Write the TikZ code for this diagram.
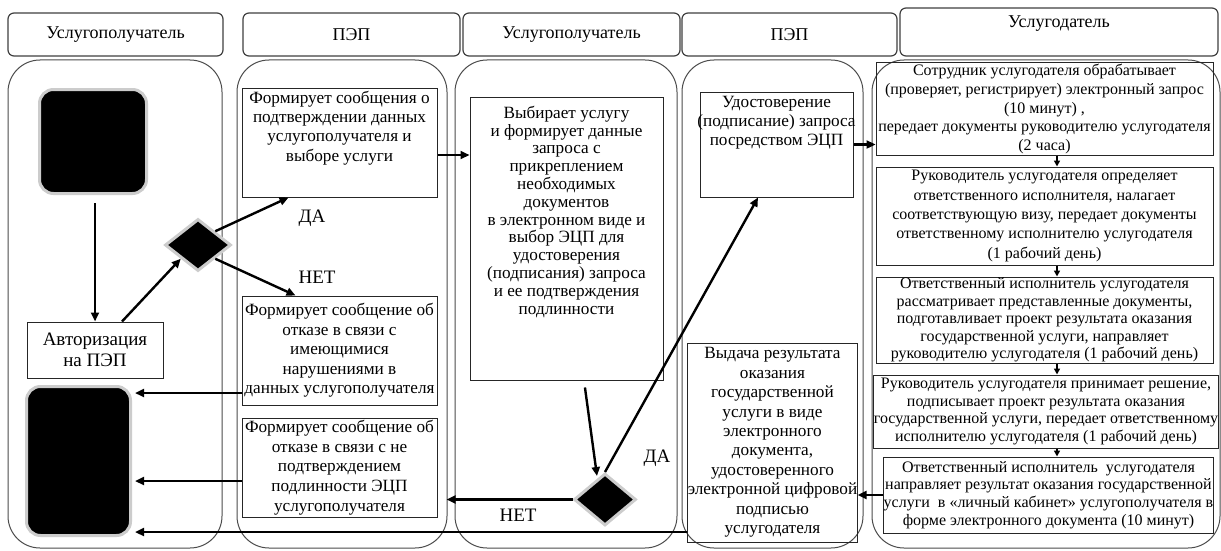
\documentclass[tikz,border=0pt]{standalone}
\usepackage{fontspec}
\setmainfont{Liberation Serif}
\usetikzlibrary{shapes.geometric,arrows.meta}
% text box with the text set at its top
\newcommand{\toptext}[4]{\parbox[t][#2pt][t]{#1pt}{\centering\vspace*{#3pt}#4}}
\begin{document}
\begin{tikzpicture}[x=1pt,y=-1pt,
    every node/.style={font=\fontsize{17.2}{19.3}\selectfont},
    lane/.style={draw=black!70,line width=1pt,rounded corners=32pt},
    head/.style={draw=black!75,line width=1.2pt,rounded corners=6pt,minimum height=43pt,inner sep=0pt,font=\fontsize{18}{20}\selectfont},
    act/.style={draw=black!85,line width=1pt,align=center,inner sep=0pt},
    small/.style={font=\fontsize{16}{#1}\selectfont},
    term/.style={fill=black,draw=black!20,line width=3pt,rounded corners=14pt},
    cond/.style={diamond,fill=black,draw=black!20,line width=3pt,inner sep=0pt},
    arr/.style={line width=2.4pt,-{Triangle[length=9pt,width=8pt]}},
    sarr/.style={line width=1.5pt,-{Triangle[length=6pt,width=6pt]}}]
  \fill[white] (0,0) rectangle (1221,551);
  \useasboundingbox (0,0) rectangle (1221,551);

  % lanes
  \draw[lane] (8,60) rectangle (222,548);
  \draw[lane] (237,60) rectangle (447,548);
  \draw[lane] (455,60) rectangle (677,548);
  \draw[lane] (682,60) rectangle (863,548);
  \draw[lane] (872,60) rectangle (1220,548);

  % headers
  \node[head,minimum width=215] (h1) at (115.5,34.5) {Услугополучатель};
  \node[head,minimum width=217] (h2) at (351.5,34.5) {ПЭП};
  \node[head,minimum width=217] (h3) at (571.5,34.5) {Услугополучатель};
  \node[head,minimum width=215] (h4) at (789.5,34.5) {ПЭП};
  \node[head] (h5) at (1059,32) {\toptext{318}{48}{8}{Услугодатель}};

  % Услугополучатель
  \node[term,minimum width=107,minimum height=104] (start) at (93,141.5) {};
  \node[act,minimum width=136,minimum height=56,font=\fontsize{19}{21}\selectfont] (auth) at (95,350) {Авторизация\\на ПЭП};
  \node[cond,minimum width=66,minimum height=52] (d1) at (198,245) {};
  \node[term,minimum width=104,minimum height=149] (end) at (78.5,461) {};

  % ПЭП
  \node[act] (boxA) at (339.5,142.5) {\toptext{195}{109}{3}{Формирует сообщения о\\подтверждении данных\\услугополучателя и\\выборе услуги}};
  \node[act,minimum width=195,minimum height=109,font=\fontsize{17.2}{19.5}\selectfont] (boxB) at (339.5,350.5) {Формирует сообщение об\\отказе в связи с\\имеющимися\\нарушениями в\\данных услугополучателя};
  \node[act,minimum width=195,minimum height=99,font=\fontsize{17.2}{19.8}\selectfont] (boxC) at (339.5,467.5) {Формирует сообщение об\\отказе в связи с не\\подтверждением\\подлинности ЭЦП\\услугополучателя};
  \node[font=\fontsize{19}{21}\selectfont] (yes1) at (312,218) {ДА};
  \node[font=\fontsize{19}{21}\selectfont] (no1) at (317,277) {НЕТ};

  % Услугополучатель
  \node[act,font=\fontsize{17.2}{17.8}\selectfont] (boxD) at (566.5,238.5) {\toptext{193}{283}{9}{Выбирает услугу\\и формирует данные\\запроса с\\прикреплением\\необходимых\\документов\\в электронном виде и\\выбор ЭЦП для\\удостоверения\\(подписания) запроса\\и ее подтверждения\\подлинности}};
  \node[cond,minimum width=62,minimum height=52] (d2) at (605,499.5) {};
  \node[font=\fontsize{19}{21}\selectfont] (no2) at (518,515) {НЕТ};
  \node[font=\fontsize{19}{21}\selectfont] (yes2) at (657,458) {ДА};

  % ПЭП
  \node[act] (boxE) at (776.5,144.5) {\toptext{153}{105}{4}{Удостоверение\\\makebox[\linewidth]{(подписание) запроса}\\посредством ЭЦП}};
  \node[act,minimum width=169,minimum height=199,font=\fontsize{17.2}{19.4}\selectfont] (boxK) at (772.5,442.5) {Выдача результата\\оказания\\государственной\\услуги в виде\\электронного\\документа,\\удостоверенного\\электронной цифровой\\подписью\\услугодателя};

  % Услугодатель
  \node[act,small=18.7,minimum width=337,minimum height=92] (boxF) at (1044.5,109) {Сотрудник услугодателя обрабатывает\\(проверяет, регистрирует) электронный запрос\\(10 минут) ,\\передает документы руководителю услугодателя\\(2 часа)};
  \node[act,small=19.4,minimum width=337,minimum height=98] (boxG) at (1044.5,216) {Руководитель услугодателя определяет\\ответственного исполнителя, налагает\\соответствующую визу, передает документы\\ответственному исполнителю услугодателя\\(1 рабочий день)};
  \node[act,small=17.5,minimum width=337,minimum height=86] (boxH) at (1044.5,320) {Ответственный исполнитель услугодателя\\рассматривает представленные документы,\\подготавливает проект результата оказания\\государственной услуги, направляет\\руководителю услугодателя (1 рабочий день)};
  \node[act,small=17.7,minimum width=332,minimum height=73] (boxI) at (1046,411.5) {Руководитель услугодателя принимает решение,\\подписывает проект результата оказания\\государственной услуги, передает ответственному\\исполнителю услугодателя (1 рабочий день)};
  \node[act,small=17.7,minimum width=327,minimum height=76] (boxJ) at (1048.5,495) {Ответственный исполнитель~ услугодателя\\направляет результат оказания государственной\\услуги~ в «личный кабинет» услугополучателя в\\форме электронного документа (10 минут)};

  \coordinate (aOut) at ([yshift=-12.5pt]boxA.east);
  \coordinate (bOut) at ([yshift=-42.5pt]boxB.west);
  \coordinate (cOut) at ([yshift=-13.5pt]boxC.west);
  \coordinate (kOut) at ([yshift=-89.5pt]boxK.west);
  \coordinate (col) at (1057,0);

  \begin{scope}[arr]
    \draw[shorten <=8pt] (start.south -| auth.north) to (auth.north);
    \draw ([xshift=27pt]auth.north) to (d1.south west);
    \draw (d1.north east) to ([xshift=-51pt]boxA.south);
    \draw (d1.south east) to ([xshift=-44pt]boxB.north);
    \draw (aOut) to (aOut -| boxD.west);
    \draw[shorten >=3pt] (bOut) to (bOut -| end.east);
    \draw[shorten >=3pt] (cOut) to (cOut -| end.east);
    \draw[shorten <=7pt] ([xshift=17.5pt]boxD.south) to ([xshift=-8pt,yshift=-4pt]d2.north);
    \draw[shorten >=9pt] (d2.west) to (d2.west -| boxC.east);
    \draw (d2.north) to ([xshift=-18.5pt]boxE.south);
    \draw (boxE.east) to (boxE.east -| boxF.west);
    \draw (boxJ.west) to (boxJ.west -| boxK.east);
    \draw[shorten >=3pt] (kOut) to (kOut -| end.east);
  \end{scope}
  \foreach \a/\b in {boxF/boxG,boxG/boxH,boxH/boxI,boxI/boxJ}
    \draw[sarr] (\a.south -| col) to (\b.north -| col);
\end{tikzpicture}
\end{document}
